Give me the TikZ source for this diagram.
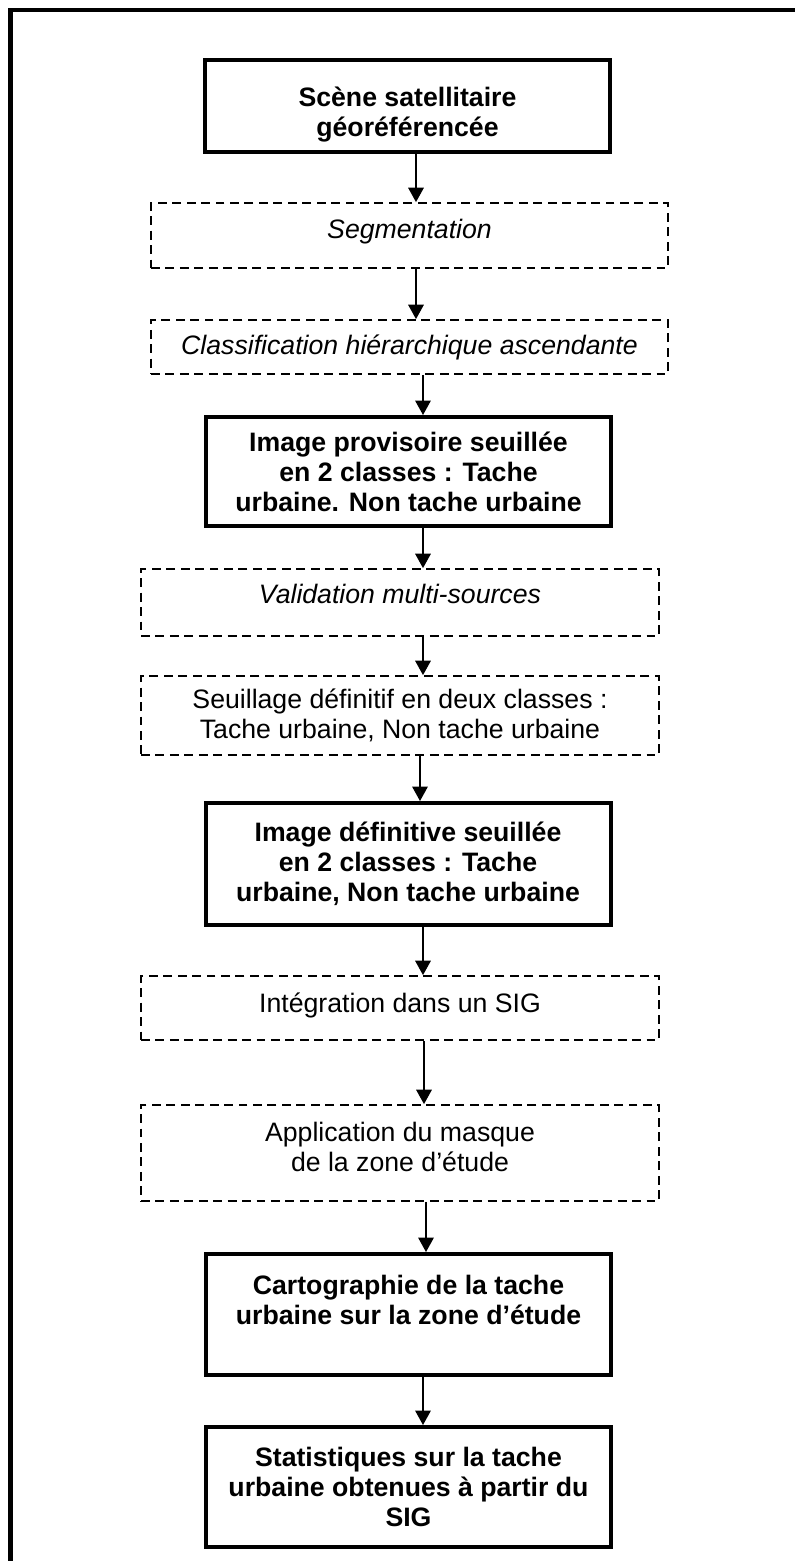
\documentclass[tikz,border=0pt]{standalone}
\usepackage{fontspec}
\setmainfont{Liberation Sans}
\usetikzlibrary{arrows.meta}

\tikzset{
  etape/.style={draw, line width=1.8pt, align=center, minimum width=405*0.45pt,
    font=\fontsize{12}{13.5}\selectfont\bfseries},
  traitement/.style={draw, line width=0.8pt, dash pattern=on 4pt off 2.5pt, align=center,
    minimum width=518*0.45pt, font=\fontsize{12}{13.5}\selectfont},
  fleche/.style={->, line width=0.7pt},
  cadre/.style={line width=2pt, line join=miter},
}

\begin{document}
\begin{tikzpicture}[x=0.45pt, y=-0.45pt, >={Triangle[width=7pt,length=6.5pt]}]
              \useasboundingbox (0,0) rectangle (795,1561);
              % cadre (haut et gauche seulement)
              \coordinate (cadreD) at (800,10);
              \coordinate (cadreC) at (10.5,10);
              \coordinate (cadreB) at (10.5,1566);
              \draw[cadre] (cadreD) -- (cadreC) -- (cadreB);
              % boites
              \node[etape, minimum height=92*0.45pt] (scene) at (407.5,106) {\rule{0pt}{16.5pt}Scène satellitaire\\géoréférencée};
              \node[traitement, minimum width=517*0.45pt, minimum height=65*0.45pt, text height=9pt, text depth=6.2pt] (segm) at (409.5,235.5) {\itshape Segmentation};
              \node[traitement, minimum width=517*0.45pt, minimum height=54*0.45pt] (classif) at (409.5,347) {\itshape Classification hiérarchique ascendante};
              \node[etape, minimum height=109*0.45pt] (provis) at (408.5,471.5) {Image provisoire seuillée\\en 2 classes : Tache\\urbaine. Non tache urbaine};
              \node[traitement, minimum height=67*0.45pt, text height=9pt, text depth=8pt] (valid) at (400,602.5) {\itshape Validation multi-sources};
              \node[traitement, minimum height=79*0.45pt] (seuil) at (400,715.5) {Seuillage définitif en deux classes :\\Tache urbaine, Non tache urbaine};
              \node[etape, minimum height=122*0.45pt] (defin) at (408,864) {Image définitive seuillée\\en 2 classes : Tache\\urbaine, Non tache urbaine};
              \node[traitement, minimum height=64*0.45pt, text height=9pt, text depth=4.9pt] (integ) at (400,1008) {Intégration dans un SIG};
              \node[traitement, minimum height=96*0.45pt] (applic) at (400,1153) {Application du masque\\de la zone d’étude\rule[-5.4pt]{0pt}{0pt}};
              \node[etape, minimum height=121*0.45pt] (carto) at (408.5,1314.5) {Cartographie de la tache\\urbaine sur la zone d’étude\\\mbox{}};
              \node[etape, minimum height=120*0.45pt] (stats) at (408.5,1487) {Statistiques sur la tache\\urbaine obtenues à partir du\\SIG};
              % fleches
              \foreach \a/\b/\x in {scene/segm/416, segm/classif/416, classif/provis/423, provis/valid/423,
                  valid/seuil/423, seuil/defin/420, defin/integ/423, integ/applic/424, applic/carto/426, carto/stats/423} {
                \path (\x,0) coordinate (col);
                \draw[fleche] (\a.south -| col) -- (\b.north -| col);
              }
\end{tikzpicture}
\end{document}
